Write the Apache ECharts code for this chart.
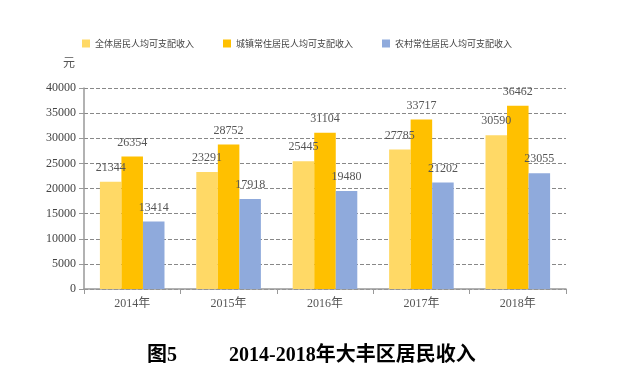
<!DOCTYPE html>
<html><head><meta charset="utf-8">
<script src="https://cdn.jsdelivr.net/npm/echarts@6/dist/echarts.min.js"></script>
<style>html,body{margin:0;padding:0;background:#fff}#c{width:633px;height:382px}</style>
</head><body><div id="c"></div>
<script>
const categories = ['2014年','2015年','2016年','2017年','2018年'];
const seriesNames = ['全体居民人均可支配收入','城镇常住居民人均可支配收入','农村常住居民人均可支配收入'];
const allResidents = [21344, 23291, 25445, 27785, 30590];
const urbanResidents = [26354, 28752, 31104, 33717, 36462];
const ruralResidents = [13414, 17918, 19480, 21202, 23055];
const colors = ['#FFD966', '#FFC000', '#8FAADC'];
const data = [allResidents, urbanResidents, ruralResidents];
const chart = echarts.init(document.getElementById('c'));
const serif = '"Liberation Serif","DejaVu Serif","Noto Sans CJK SC",serif';
chart.setOption({
  animation: false,
  color: colors,
  graphic: [
    {type: 'text', left: 147, top: 346, style: {text: '图5', font: 'bold 20px ' + serif, fill: '#000'}},
    {type: 'text', left: 229, top: 346, style: {text: '2014-2018年大丰区居民收入', font: 'bold 20px ' + serif, fill: '#000'}}
  ],
  legend: {
    top: 34, left: 77, itemGap: 29, itemWidth: 8, itemHeight: 8,
    icon: 'rect',
    textStyle: {fontSize: 9, color: '#444', fontFamily: '"Noto Sans CJK SC",sans-serif'},
    data: seriesNames
  },
  grid: {left: 84, right: 67, top: 88, bottom: 93},
  xAxis: {
    type: 'category', data: categories,
    axisLine: {lineStyle: {color: '#999', width: 1.5}},
    axisTick: {show: true, length: 5, lineStyle: {color: '#999'}},
    axisLabel: {color: '#555', fontSize: 12, fontFamily: serif, margin: 9}
  },
  yAxis: {
    type: 'value', min: 0, max: 40000, interval: 5000,
    name: '元', nameLocation: 'end', nameGap: 18,
    nameTextStyle: {color: '#555', fontSize: 12, fontFamily: serif, padding: [0, 30, 0, 0]},
    axisLine: {show: true, lineStyle: {color: '#999', width: 1.5}},
    axisTick: {show: true, length: 5, lineStyle: {color: '#999'}},
    axisLabel: {color: '#444', fontSize: 12, fontFamily: serif, margin: 8, formatter: v => String(v)},
    splitLine: {lineStyle: {color: '#888', type: [4, 2], width: 1}}
  },
  series: data.map((d, i) => ({
    name: seriesNames[i], type: 'bar', data: d,
    barGap: '0%', barCategoryGap: '33%',
    label: {show: true, position: 'top', color: '#555', fontSize: 12, fontFamily: serif, distance: 8}
  }))
});
</script></body></html>
